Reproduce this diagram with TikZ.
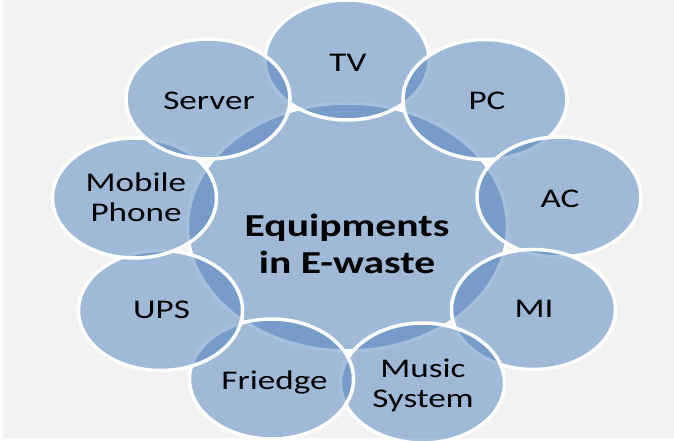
\documentclass[tikz,border=0pt]{standalone}
\usepackage{fontspec}
\usepackage{graphicx}
\setmainfont{Carlito}
\usetikzlibrary{shapes.geometric}
\definecolor{accent}{RGB}{79,129,189}
\definecolor{paper}{RGB}{242,242,242}
\newcommand{\sx}[1]{\scalebox{1.3}[1]{#1}}
\tikzset{
  bubble/.style={ellipse, fill=accent, fill opacity=0.5, draw=white, draw opacity=1,
    line width=3.5pt, inner sep=0pt, minimum width=164pt, minimum height=120pt},
  hub/.style={bubble, minimum width=320pt, minimum height=248pt},
  lbl/.style={font=\fontsize{27}{30}\selectfont, text=black, inner sep=0pt, align=center},
  hublbl/.style={font=\bfseries\fontsize{32}{37}\selectfont, text=black, inner sep=0pt, align=center}
}
\begin{document}
\begin{tikzpicture}[x=1pt,y=-1pt]
\useasboundingbox (0,0) rectangle (674,441);
\fill[white] (0,0) rectangle (674,441);
\fill[paper] (3,0) rectangle (674,438);
% hub
\node[hub] (hub) at (347.5,227) {};
% outer bubbles, clockwise from top
\node[bubble] (tv) at (347,60) {};
\node[bubble] (pc) at (485,99.5) {};
\node[bubble] (ac) at (559,197) {};
\node[bubble] (mi) at (533.5,309.5) {};
\node[bubble] (music) at (422.5,383) {};
\node[bubble] (fridge) at (271.5,379) {};
\node[bubble] (ups) at (160.5,310.5) {};
\node[bubble] (mobile) at (134.5,198) {};
\node[bubble] (server) at (208,99) {};
% labels
\node[hublbl] (hubt) at (347,244) {\sx{Equipments}\\\sx{in E-waste}};
\node[lbl, anchor=base] (tvt) at (348,72) {\sx{TV}};
\node[lbl, anchor=base] (pct) at (487,109.5) {\sx{PC}};
\node[lbl, anchor=base] (act) at (560,207.5) {\sx{AC}};
\node[lbl, anchor=base] (mit) at (534,317.5) {\sx{MI}};
\node[lbl] (musict) at (423,385) {\sx{Music}\\\sx{System}};
\node[lbl, anchor=base] (fridget) at (274.5,389.5) {\sx{Friedge}};
\node[lbl, anchor=base] (upst) at (161.5,318.5) {\sx{UPS}};
\node[lbl] (mobilet) at (136,197) {\sx{Mobile}\\\sx{Phone}};
\node[lbl, anchor=base] (servert) at (209,110) {\sx{Server}};
\end{tikzpicture}
\end{document}
